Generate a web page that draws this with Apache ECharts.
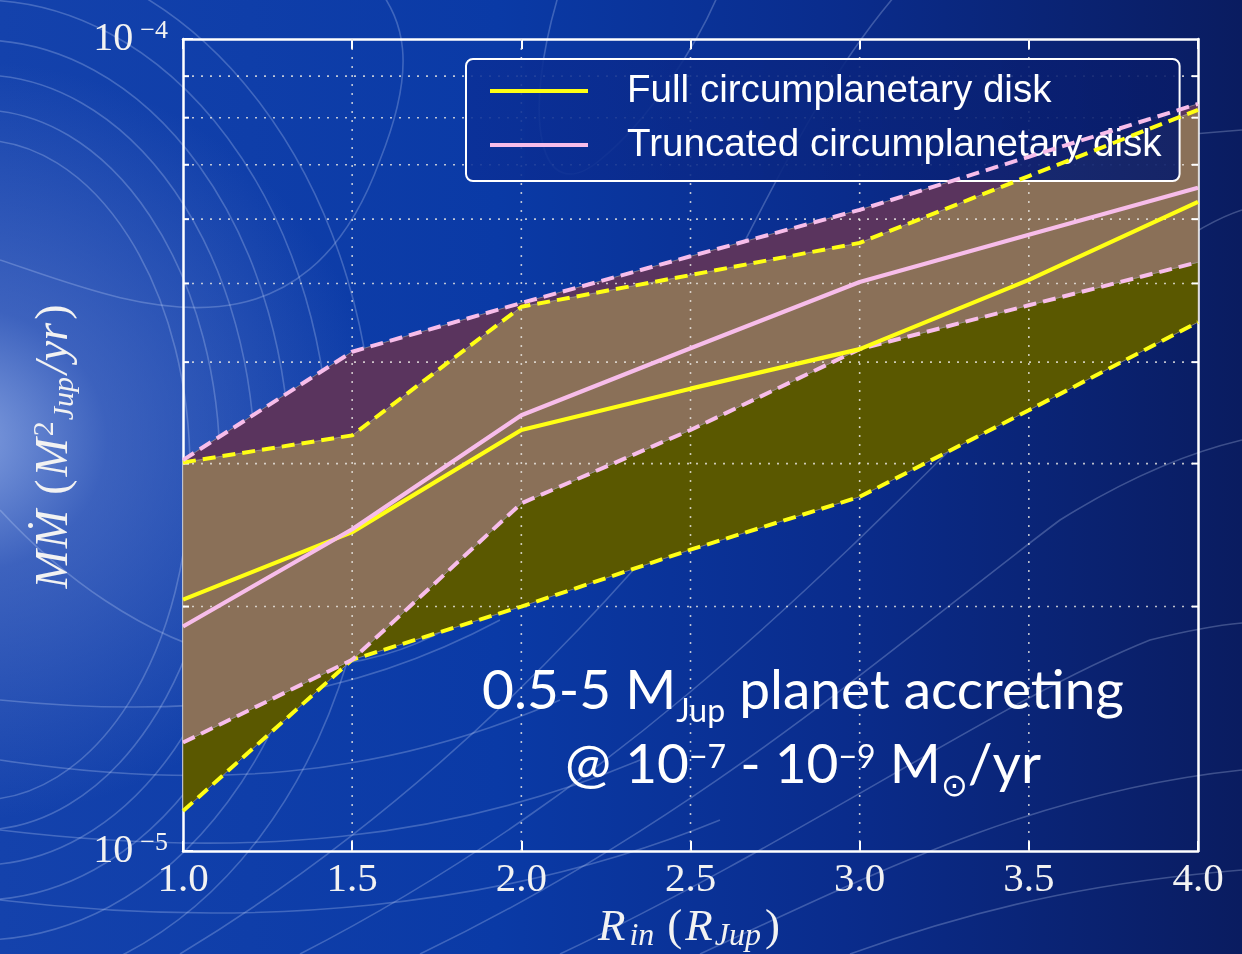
<!DOCTYPE html>
<html><head><meta charset="utf-8">
<script src="https://cdn.jsdelivr.net/npm/echarts@6/dist/echarts.min.js"></script>
<style>
html,body{margin:0;padding:0;width:1242px;height:954px;overflow:hidden;}
body{
 background:
  radial-gradient(ellipse 420px 380px at -40px 440px, rgba(150,175,232,0.85) 0%, rgba(95,125,205,0.55) 35%, rgba(40,80,180,0) 100%),
  linear-gradient(90deg, #1442ac 0%, #0a3aa6 40%, #0a2c8c 68%, #0a1c60 100%);
}
#bg{position:absolute;left:0;top:0;}
#c{position:absolute;left:0;top:0;width:1242px;height:954px;}
</style></head><body>
<svg id="bg" width="1242" height="954" xmlns="http://www.w3.org/2000/svg">
 <g fill="none" stroke="rgba(210,225,255,0.26)" stroke-width="1.6">
  <ellipse cx="-20" cy="470" rx="210" ry="330"/>
  <ellipse cx="-20" cy="470" rx="240" ry="360"/>
  <ellipse cx="-20" cy="470" rx="275" ry="395"/>
  <ellipse cx="-20" cy="470" rx="310" ry="430"/>
  <ellipse cx="-20" cy="470" rx="350" ry="470"/>
  <ellipse cx="-20" cy="470" rx="395" ry="520"/>
  <path d="M 0 260 C 120 300 300 380 380 160 C 420 60 400 20 380 -10"/>
  <path d="M 0 510 C 120 640 330 760 540 560 C 700 400 760 150 900 -10"/>
  <path d="M 300 954 C 600 800 800 600 1000 400 C 1100 300 1180 230 1242 210"/>
  <path d="M 420 954 C 700 820 900 640 1060 520 C 1140 470 1200 450 1242 440"/>
  <path d="M 560 954 C 800 840 1000 700 1150 640 C 1190 630 1220 625 1242 623"/>
  <path d="M 700 954 C 900 860 1050 790 1242 770"/>
  <path d="M 850 954 C 1000 900 1120 880 1242 870"/>
  <path d="M 180 954 C 500 760 700 500 850 300 C 950 160 1100 140 1242 130"/>
  <path d="M 560 -10 C 520 120 540 210 600 160 C 650 120 700 40 720 -10"/>
  <path d="M 0 700 C 200 720 350 700 500 620"/>
  <path d="M 0 760 C 200 790 380 780 560 700"/>
  <path d="M 0 830 C 250 860 450 840 640 760"/>
  <path d="M 0 900 C 250 930 500 910 720 820"/>
 </g>
</svg>
<div id="c"></div>
<script>
// ---- data (values in M_Jup^2/yr) ----
const rIn        = [1.0, 1.5, 2.0, 2.5, 3.0, 3.5, 4.0];
const fullMid    = [2.04e-5, 2.47e-5, 3.30e-5, 3.71e-5, 4.15e-5, 5.05e-5, 6.30e-5];
const fullUpper  = [3.01e-5, 3.25e-5, 4.68e-5, 5.12e-5, 5.61e-5, 6.78e-5, 8.18e-5];
const fullLower  = [1.12e-5, 1.72e-5, 2.00e-5, 2.35e-5, 2.73e-5, 3.49e-5, 4.48e-5];
const truncMid   = [1.89e-5, 2.49e-5, 3.44e-5, 4.16e-5, 5.02e-5, 5.74e-5, 6.56e-5];
const truncUpper = [3.03e-5, 4.12e-5, 4.73e-5, 5.40e-5, 6.16e-5, 7.16e-5, 8.32e-5];
const truncLower = [1.36e-5, 1.72e-5, 2.68e-5, 3.30e-5, 4.15e-5, 4.70e-5, 5.31e-5];
const xTicks     = [1.0, 1.5, 2.0, 2.5, 3.0, 3.5, 4.0];
const yMinorGrid = [2e-5, 3e-5, 4e-5, 5e-5, 6e-5, 7e-5, 8e-5, 9e-5];
const seriesNames = ['Full circumplanetary disk', 'Truncated circumplanetary disk'];

const YELLOW = '#ffff14', PINK = '#f7bdea';
const OLIVE = '#5a5800', BROWN = '#8a7058', PURPLE = '#5a345e';
const GRIDC = 'rgba(235,232,228,0.8)';

const pts = arr => rIn.map((x, i) => [x, arr[i]]);
const serif = 'Liberation Serif';
const X0 = xTicks[0], X1 = xTicks[xTicks.length - 1];
const Y0 = 1e-5, Y1 = 1e-4;
const chart = echarts.init(document.getElementById('c'), null, {renderer: 'canvas'});

// filled band between two curves, drawn through the axes' scales
const band = (name, lo, hi, color) => ({
  name, type: 'custom', silent: true, z: 1,
  data: rIn.map((x, i) => [x, lo[i], hi[i]]),
  encode: {x: 0, y: [1, 2]},
  renderItem: (params, api) => {
    if (params.dataIndexInside !== 0) return null;
    const n = params.dataInsideLength;
    const top = [], bot = [];
    for (let j = 0; j < n; j++) {
      top.push(api.coord([api.value(0, j), api.value(2, j)]));
      bot.push(api.coord([api.value(0, j), api.value(1, j)]));
    }
    return {type: 'polygon', shape: {points: top.concat(bot.reverse())},
      style: {fill: color, stroke: 'rgba(165,155,145,0.65)', lineWidth: 1}};
  }
});
// dotted grid lines (drawn above the fills, as in the original)
const hGrid = {
  name: 'hgrid', type: 'custom', silent: true, z: 3,
  data: yMinorGrid.map(v => [X0, v]), encode: {x: 0, y: 1},
  renderItem: (params, api) => {
    const v = api.value(1);
    const a = api.coord([X0, v]), b = api.coord([X1, v]);
    return {type: 'group', children: [
      {type: 'line', shape: {x1: a[0], y1: a[1], x2: b[0], y2: b[1]}, style: {stroke: GRIDC, lineWidth: 1.6, lineDash: [2, 7]}},
      {type: 'line', shape: {x1: a[0], y1: a[1], x2: a[0] + 6, y2: a[1]}, style: {stroke: '#ffffff', lineWidth: 2}},
      {type: 'line', shape: {x1: b[0] - 6, y1: b[1], x2: b[0], y2: b[1]}, style: {stroke: '#ffffff', lineWidth: 2}}
    ]};
  }
};
const vGrid = {
  name: 'vgrid', type: 'custom', silent: true, z: 3,
  data: xTicks.slice(1, -1).map(v => [v, Y0]), encode: {x: 0, y: 1},
  renderItem: (params, api) => {
    const v = api.value(0);
    const a = api.coord([v, Y0]), b = api.coord([v, Y1]);
    return {type: 'line', shape: {x1: a[0], y1: a[1], x2: b[0], y2: b[1]}, style: {stroke: GRIDC, lineWidth: 1.6, lineDash: [2, 7]}};
  }
};
const dashed = (name, data, color) => ({name, type: 'line', data: pts(data), symbol: 'none', silent: true, z: 5,
  lineStyle: {color, width: 4, type: [13, 7]}});

const txt = '#f2f2f2';
const option = {
  animation: false,
  backgroundColor: 'transparent',
  grid: {left: 183, right: 44, top: 39, bottom: 103, containLabel: false, outerBoundsMode: 'none'},
  legend: {
    data: seriesNames, orient: 'vertical', left: 466, top: 59,
    icon: 'rect', itemWidth: 98, itemHeight: 4, itemGap: 10,
    padding: [10, 18, 14, 24],
    backgroundColor: {type: 'linear', x: 0, y: 0, x2: 1, y2: 0, colorStops: [
      {offset: 0, color: 'rgba(11,48,152,0.88)'}, {offset: 1, color: 'rgba(9,28,104,0.9)'}]},
    borderColor: '#ffffff', borderWidth: 2, borderRadius: 7,
    selectedMode: false,
    textStyle: {color: '#ffffff', fontSize: 38.6, fontFamily: 'Liberation Sans', lineHeight: 44, padding: [0, 0, 0, 34]}
  },
  xAxis: [{
    type: 'value', min: X0, max: X1, interval: 0.5, position: 'bottom',
    name: '{r|R}{t|in}{n|(}{i|R}{s|Jup}{n|)}', nameLocation: 'middle', nameGap: 52,
    nameTextStyle: {rich: {
      r: {fontFamily: serif, fontStyle: 'italic', fontSize: 45, color: txt, lineHeight: 48, padding: [0, 4, 0, 0]},
      i: {fontFamily: serif, fontStyle: 'italic', fontSize: 45, color: txt, lineHeight: 48, padding: [0, 2, 0, 0]},
      n: {fontFamily: serif, fontSize: 45, color: txt, lineHeight: 48, padding: [0, 3, 0, 3]},
      t: {fontFamily: serif, fontStyle: 'italic', fontSize: 32, color: txt, lineHeight: 30, verticalAlign: 'bottom', padding: [0, 10, 0, 0]},
      s: {fontFamily: serif, fontStyle: 'italic', fontSize: 32, color: txt, lineHeight: 30, verticalAlign: 'bottom', padding: [0, 1, 0, 0]}
    }},
    axisLine: {show: true, onZero: false, lineStyle: {color: '#ffffff', width: 2.5}},
    axisTick: {show: true, inside: true, length: 10, lineStyle: {color: '#ffffff', width: 2}},
    axisLabel: {color: txt, fontFamily: serif, fontSize: 41, margin: 9, formatter: v => v.toFixed(1)},
    splitLine: {show: false}
  }, {
    type: 'value', min: X0, max: X1, interval: 0.5, position: 'top',
    axisLine: {show: true, onZero: false, lineStyle: {color: '#ffffff', width: 2.5}},
    axisTick: {show: true, inside: true, length: 10, lineStyle: {color: '#ffffff', width: 2}},
    axisLabel: {show: false}, splitLine: {show: false}
  }],
  yAxis: [{
    type: 'log', logBase: 10, min: Y0, max: Y1, position: 'left',
    name: '{i|M}{k|Ṁ}{n|(}{i|M}{p|2}{s|Jup}{i|/yr}{n|)}', nameLocation: 'middle', nameGap: 103, nameRotate: 90,
    nameTextStyle: {rich: {
      i: {fontFamily: serif, fontStyle: 'italic', fontSize: 46, color: txt, lineHeight: 50},
      k: {fontFamily: serif, fontStyle: 'italic', fontSize: 46, color: txt, lineHeight: 50, padding: [0, 12, 0, 2]},
      n: {fontFamily: serif, fontSize: 46, color: txt, lineHeight: 50, padding: [0, 3, 0, 3]},
      p: {fontFamily: serif, fontSize: 30, color: txt, lineHeight: 30, verticalAlign: 'top', padding: [0, 1, 0, 2]},
      s: {fontFamily: serif, fontStyle: 'italic', fontSize: 30, color: txt, lineHeight: 30, verticalAlign: 'bottom', padding: [0, 3, 0, 0]}
    }},
    axisLine: {show: true, onZero: false, lineStyle: {color: '#ffffff', width: 2.5}},
    axisTick: {show: true, inside: true, length: 10, lineStyle: {color: '#ffffff', width: 2}},
    axisLabel: {
      margin: 15,
      formatter: v => '{b|10}{s|−' + Math.round(-Math.log10(v)) + '}',
      rich: {
        b: {fontFamily: serif, fontSize: 40, color: txt, lineHeight: 42},
        s: {fontFamily: serif, fontSize: 26, color: txt, lineHeight: 26, verticalAlign: 'top', padding: [0, 0, 0, 7]}
      }
    },
    splitLine: {show: false}
  }, {
    type: 'log', logBase: 10, min: Y0, max: Y1, position: 'right',
    axisLine: {show: true, onZero: false, lineStyle: {color: '#ffffff', width: 2.5}},
    axisTick: {show: false}, axisLabel: {show: false}, splitLine: {show: false}
  }],
  series: [
    band('fullOnly', fullLower, truncLower, OLIVE),
    band('overlap', truncLower, fullUpper, BROWN),
    band('truncOnly', fullUpper, truncUpper, PURPLE),
    hGrid, vGrid,
    dashed('fullUpperLine', fullUpper, YELLOW),
    dashed('fullLowerLine', fullLower, YELLOW),
    dashed('truncUpperLine', truncUpper, PINK),
    dashed('truncLowerLine', truncLower, PINK),
    {name: seriesNames[0], type: 'line', data: pts(fullMid), symbol: 'none', z: 6, silent: true,
      color: YELLOW, itemStyle: {color: YELLOW}, lineStyle: {color: YELLOW, width: 4.2}},
    {name: seriesNames[1], type: 'line', data: pts(truncMid), symbol: 'none', z: 6, silent: true,
      color: PINK, itemStyle: {color: PINK}, lineStyle: {color: PINK, width: 4.2}}
  ],
  graphic: [{
    type: 'text', x: 803, y: 654, z: 100, silent: true,
    style: {
      text: '{a|0.5-5 M}{s|Jup}{a| planet accreting}\n{a|@ 10}{p|−7}{a| - 10}{p|−9}{a| M}{s|⊙}{a|/yr}',
      align: 'center', verticalAlign: 'top', textAlign: 'center', textVerticalAlign: 'top',
      fill: '#ffffff',
      rich: {
        a: {fontFamily: 'Lato', fontSize: 55, fill: '#ffffff', lineHeight: 74},
        s: {fontFamily: 'Lato', fontSize: 32, fill: '#ffffff', lineHeight: 42, verticalAlign: 'bottom'},
        p: {fontFamily: 'Lato', fontSize: 32, fill: '#ffffff', lineHeight: 40, verticalAlign: 'top', padding: [14, 0, 0, 0]}
      }
    }
  }]
};
chart.setOption(option);
</script>
</body></html>
